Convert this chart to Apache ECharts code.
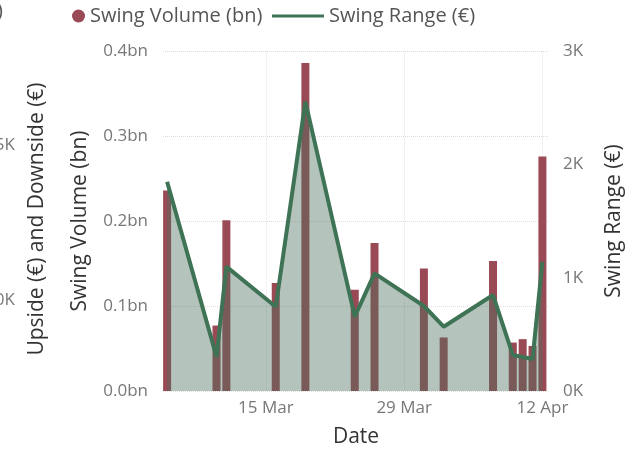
<!DOCTYPE html>
<html>
<head>
<meta charset="utf-8">
<script src="https://cdn.jsdelivr.net/npm/echarts@6/dist/echarts.min.js"></script>
<style>
	html, body { margin: 0; padding: 0; background: #fff; }
	#chart { width: 636px; height: 453px; }
</style>
</head>
<body>
<div id="chart"></div>
<script>
// data
var dates = ['2021-03-05','2021-03-10','2021-03-11','2021-03-16','2021-03-19','2021-03-24','2021-03-26',
	'2021-03-31','2021-04-02','2021-04-07','2021-04-09','2021-04-10','2021-04-11','2021-04-12'];
var swingVolume = [0.236, 0.077, 0.201, 0.127, 0.386, 0.119, 0.174, 0.144, 0.063, 0.153, 0.057, 0.061, 0.053, 0.276];
var swingRange = [1847, 303, 1097, 744, 2553, 656, 1038, 750, 567, 847, 318, 300, 282, 1141];
var dateTicks = ['2021-03-15', '2021-03-29', '2021-04-12'];
var monthNames = ['Jan','Feb','Mar','Apr','May','Jun','Jul','Aug','Sep','Oct','Nov','Dec'];

var FONT = '"Open Sans", sans-serif';
var RED = '#9a4a55';
var GREEN = '#3e7356';

function ts(d){
	return new Date(d + 'T00:00:00Z').getTime();
}

var volumeData = [];
var rangeData = [];
for(var i = 0; i < dates.length; i++){
	volumeData.push([ts(dates[i]), swingVolume[i]]);
	rangeData.push([ts(dates[i]), swingRange[i]]);
}
var tickValues = dateTicks.map(ts);

var myChart = echarts.init(document.getElementById('chart'));

var option = {
	animation: false,
	textStyle: { fontFamily: FONT },
	grid: { left: 163, right: 87, top: 51, bottom: 62 },
	legend: [
		{
			left: 67, top: 1,
			icon: 'circle',
			itemWidth: 13, itemHeight: 13,
			textStyle: { fontSize: 20, color: '#555', fontFamily: FONT },
			data: ['Swing Volume (bn)']
		},
		{
			left: 267, top: 1,
			icon: 'rect',
			itemWidth: 52, itemHeight: 3,
			textStyle: { fontSize: 20, color: '#555', fontFamily: FONT },
			data: ['Swing Range (€)']
		}
	],
	// pieces of the neighbouring visual that is cut off on the left
	graphic: [
		{ type: 'text', left: -3, top: 1, style: { text: ')', fontSize: 20, fill: '#555', fontFamily: FONT } },
		{ type: 'text', x: 15, y: 145, style: { text: '5K', fontSize: 17, fill: '#777', align: 'right', verticalAlign: 'middle', fontFamily: FONT } },
		{ type: 'text', x: 15, y: 300, style: { text: '0K', fontSize: 17, fill: '#777', align: 'right', verticalAlign: 'middle', fontFamily: FONT } },
		{ type: 'text', x: 37, y: 219, rotation: Math.PI / 2,
			style: { text: 'Upside (€) and Downside (€)', fontSize: 21, fill: '#333', align: 'center', verticalAlign: 'middle', fontFamily: FONT } }
	],
	xAxis: {
		type: 'value',
		min: ts('2021-03-04') + 14 * 3600000,
		max: ts('2021-04-12') + 16 * 3600000,
		name: 'Date',
		nameLocation: 'middle',
		nameGap: 36,
		nameTextStyle: { fontSize: 21, color: '#333' },
		axisLine: { show: false },
		axisTick: { show: false, customValues: tickValues },
		axisLabel: {
			customValues: tickValues,
			fontSize: 17, color: '#777', margin: 9,
			formatter: function(v){
				var d = new Date(v);
				return d.getUTCDate() + ' ' + monthNames[d.getUTCMonth()];
			}
		},
		splitLine: { show: true, lineStyle: { color: '#e3e3ee', type: 'dotted', width: 1 } }
	},
	yAxis: [
		{
			type: 'value',
			min: 0, max: 0.4, interval: 0.1,
			name: 'Swing Volume (bn)',
			nameLocation: 'middle',
			nameGap: 72,
			nameTextStyle: { fontSize: 21, color: '#333' },
			axisLine: { show: false },
			axisTick: { show: false },
			axisLabel: {
				fontSize: 17, color: '#777', margin: 15,
				formatter: function(v){ return v.toFixed(1) + 'bn'; }
			},
			splitLine: { lineStyle: { color: '#dddddd', type: 'dotted', width: 1 } }
		},
		{
			type: 'value',
			min: 0, max: 3000, interval: 1000,
			name: 'Swing Range (€)',
			nameLocation: 'middle',
			nameGap: 55,
			nameTextStyle: { fontSize: 21, color: '#333' },
			axisLine: { show: false },
			axisTick: { show: false },
			axisLabel: {
				fontSize: 17, color: '#777', margin: 14,
				formatter: function(v){ return (v / 1000) + 'K'; }
			},
			splitLine: { show: false }
		}
	],
	series: [
		{
			name: 'Swing Volume (bn)',
			type: 'bar',
			yAxisIndex: 0,
			barWidth: 8,
			itemStyle: { color: RED },
			data: volumeData
		},
		{
			name: 'Swing Range (€)',
			type: 'line',
			yAxisIndex: 1,
			symbol: 'none',
			lineStyle: { color: GREEN, width: 4 },
			itemStyle: { color: GREEN },
			areaStyle: { color: 'rgb(76,112,92)', opacity: 0.42 },
			data: rangeData
		}
	]
};
myChart.setOption(option);
</script>
</body>
</html>
